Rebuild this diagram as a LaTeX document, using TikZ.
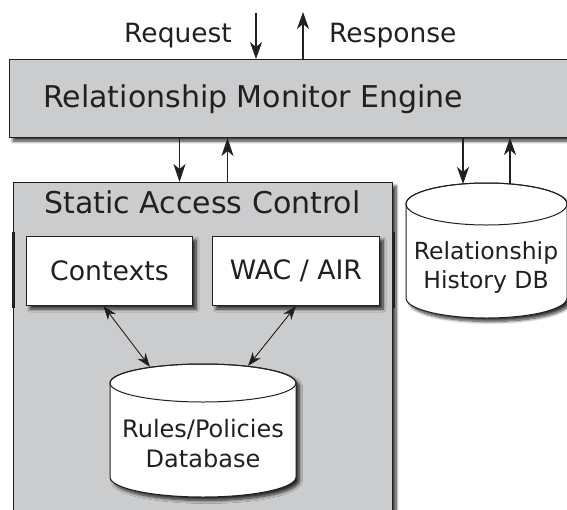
\documentclass[tikz,border=0pt]{standalone}
\usepackage{fontspec}
\setmainfont{DejaVu Sans}
\usetikzlibrary{arrows.meta,shadows.blur}
\definecolor{panel}{RGB}{203,204,206}
\definecolor{ink}{RGB}{35,31,32}
\begin{document}
\begin{tikzpicture}[x=1pt,y=-1pt,
  softshade/.style={blur shadow={shadow xshift=3.5pt,shadow yshift=-3.5pt,shadow blur radius=3pt,shadow blur steps=8,shadow opacity=80}},
  panelbox/.style={draw=ink,line width=1pt,fill=panel,softshade,inner sep=0pt},
  whitebox/.style={draw=ink,line width=1pt,fill=white,softshade,inner sep=0pt,text=ink},
  txt/.style={text=ink,inner sep=0pt},
  thickarrow/.style={draw=ink,line width=1.8pt,-{Stealth[length=18pt,width=12pt,inset=5pt]}},
  thinarrow/.style={draw=ink,line width=1.2pt,-{Stealth[length=17pt,width=12pt,inset=5pt]}},
  dblarrow/.style={draw=ink,line width=0.9pt,{Stealth[length=14pt,width=10pt,inset=4.5pt]}-{Stealth[length=14pt,width=10pt,inset=4.5pt]}},
  cylline/.style={draw=ink,line width=1pt}
]
\useasboundingbox (0,0) rectangle (567,509);

% engine
\node (eng) [panelbox, anchor=north west, minimum width=600pt, minimum height=78pt] at (9,59) {};
\node (engtxt) [txt, anchor=base west, font=\fontsize{30}{36}\selectfont] at (43,107) {Relationship Monitor Engine};
\node (reqtxt) [txt, anchor=base west, font=\fontsize{26.5}{32}\selectfont] at (124,42) {Request};
\node (restxt) [txt, anchor=base west, font=\fontsize{26.5}{32}\selectfont] at (329,42) {Response};

% static access control
\node (sac) [panelbox, anchor=north west, minimum width=379pt, minimum height=360pt] at (13,182) {};
\draw[ink,line width=3pt] ([yshift=-50pt]sac.north west) -- ([yshift=-126pt]sac.north west);
\draw[ink,line width=3pt] ([yshift=-50pt]sac.north east) -- ([yshift=-126pt]sac.north east);
\node (sactxt) [txt, anchor=base, font=\fontsize{30}{36}\selectfont] at (202.5,213) {Static Access Control};

\node (ctx) [whitebox, anchor=north west, minimum width=166pt, minimum height=69pt, font=\fontsize{26.7}{32}\selectfont] at (26,236) {Contexts};
\node (wac) [whitebox, anchor=north west, minimum width=167pt, minimum height=69pt, font=\fontsize{26.7}{32}\selectfont] at (212,236) {WAC / AIR};

% rules cylinder
\path[cylline, fill=white, softshade] (110,383) -- (110,477) arc[start angle=180,end angle=0,x radius=93,y radius=20] -- (296,383) arc[start angle=0,end angle=-180,x radius=93,y radius=19] -- cycle;
\draw[cylline] (203,383) ellipse[x radius=93,y radius=19];
\node (rules) [txt, align=center, font=\fontsize{24}{30}\selectfont] at (203,444) {Rules/Policies\\Database};
\coordinate (rulesL) at (150,367);
\coordinate (rulesR) at (248,366);

% history cylinder
\path[cylline, fill=white, softshade] (406,204) -- (406,298) arc[start angle=180,end angle=0,x radius=80.5,y radius=20] -- (567,204) arc[start angle=0,end angle=-180,x radius=80.5,y radius=21] -- cycle;
\draw[cylline] (486.5,204) ellipse[x radius=80.5,y radius=21];
\node (hist) [txt, align=center, font=\fontsize{23.5}{29}\selectfont] at (486,268) {Relationship\\History DB};
\coordinate (histL) at (463,184);
\coordinate (histR) at (510,184);

% connectors
\coordinate (reqtop) at (256,13);
\coordinate (restop) at (303,12);
\draw[thinarrow] (reqtop) -- (reqtop |- eng.north);
\draw[thinarrow] (restop |- eng.north) -- (restop);
\coordinate (d1) at ([xshift=-23.5pt]sac.north);
\coordinate (u1) at ([xshift=24.5pt]sac.north);
\draw[thickarrow] (d1 |- eng.south) -- (d1);
\draw[thickarrow] (u1) -- (u1 |- eng.south);
\draw[thinarrow] (histL |- eng.south) -- (histL);
\draw[thinarrow] (histR) -- (histR |- eng.south);
\draw[dblarrow] ([xshift=-6pt]ctx.south) -- (rulesL);
\draw[dblarrow] (wac.south) -- (rulesR);
\end{tikzpicture}
\end{document}
